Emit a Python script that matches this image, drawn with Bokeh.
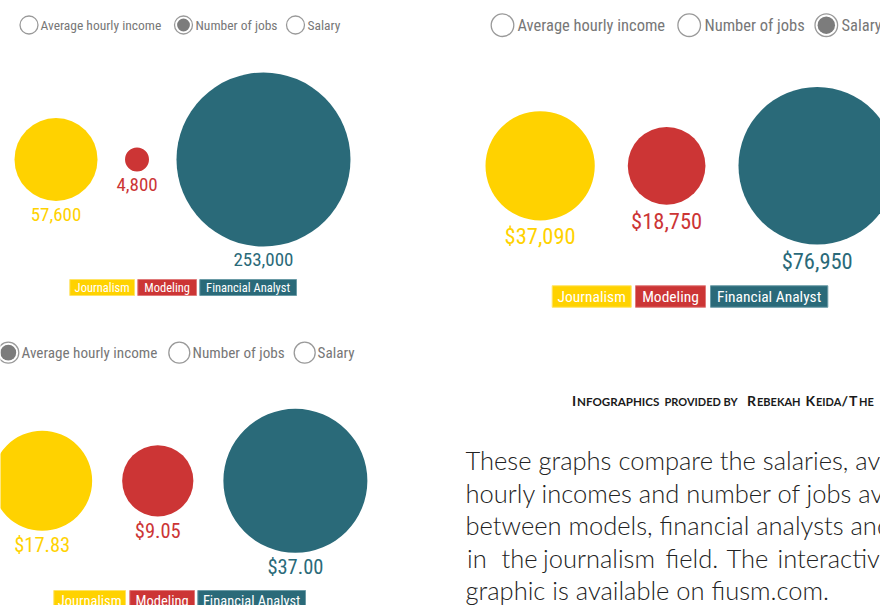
import math
from bokeh.plotting import figure
from bokeh.models import Range1d, ColumnDataSource
from bokeh.core.properties import value
from bokeh.embed import file_html
from bokeh.resources import INLINE

# ---------------- data ----------------
categories = ["Journalism", "Modeling", "Financial Analyst"]
colors = ["#FFD200", "#CC3535", "#2A6A79"]
box_lines = ["#FFE466", "#E07A7A", "#6A9BA6"]
jobs = [57600, 4800, 253000]
salary = [37090, 18750, 76950]
hourly = [17.83, 9.05, 37.00]
radio_labels = ["Average hourly income", "Number of jobs", "Salary"]

credit_parts = [("I", "big"), ("NFOGRAPHICS", "small"), ("PROVIDED BY", "small"),
                ("R", "big"), ("EBEKAH", "small"), ("K", "big"), ("EIDA", "small"),
                ("/", "big"), ("T", "big"), ("HE", "small")]
paragraph = ["These graphs compare the salaries, average",
             "hourly incomes and number of jobs available",
             "between models, financial analysts and those",
             "in the journalism field. The interactive",
             "graphic is available on fiusm.com."]

COND = value("'Roboto Condensed', 'Liberation Sans Narrow', 'DejaVu Sans Condensed', sans-serif")
LIGHT = value("'Lato Light', Lato, sans-serif")
BOLDW = value("Lato, sans-serif")

# ---------------- layout (style only) ----------------
panels = [
    dict(vals=jobs, fmt=lambda v: f"{v:,}", sel=1, left=14, cy=159, rmax=87.0, gap=27.5,
         loff=13, lsize="19px", radio_x=[28.5, 183, 295], radio_tx=[40, 195, 307], radio_y=24.5,
         radio_r=9, radio_size="13.5px",
         box=[(69.3, 134), (137.3, 196), (199.3, 296)], box_y=287, box_h=16, box_size="12.5px"),
    dict(vals=salary, fmt=lambda v: f"${v:,.0f}", sel=2, left=485, cy=165.3, rmax=78.7, gap=33,
         loff=16, lsize="22.5px", radio_x=[502, 688.7, 825.8], radio_tx=[517, 704, 841], radio_y=24.7,
         radio_r=11.3, radio_size="16.5px",
         box=[(551.7, 630.7), (635, 705), (710, 827.3)], box_y=296, box_h=21.5, box_size="15.5px"),
    dict(vals=hourly, fmt=lambda v: f"${v:.2f}", sel=0, left=-8.3, cy=480.3, rmax=72.0, gap=30,
         loff=14.5, lsize="20.5px", radio_x=[7.8, 178.8, 304.2], radio_tx=[21, 192, 317], radio_y=352.2,
         radio_r=10.5, radio_size="15.2px",
         box=[(53.3, 125), (129.3, 194), (197.3, 305)], box_y=600.5, box_h=21, box_size="14.5px"),
]

p = figure(width=880, height=605, x_range=Range1d(0, 880), y_range=Range1d(605, 0),
           output_backend="svg", toolbar_location=None, min_border=0)
p.axis.visible = False
p.grid.visible = False
p.outline_line_color = None
p.background_fill_color = "white"
p.border_fill_color = "white"

for pan in panels:
    vals = pan["vals"]
    vmax = max(vals)
    radii = [pan["rmax"] * math.sqrt(v / vmax) for v in vals]
    xs = []
    edge = pan["left"]
    for r in radii:
        xs.append(edge + r)
        edge = edge + 2 * r + pan["gap"]
    ys = [pan["cy"]] * 3
    src = ColumnDataSource(dict(x=xs, y=ys, r=radii, c=colors,
                                ly=[pan["cy"] + r + pan["loff"] for r in radii],
                                lab=[pan["fmt"](v) for v in vals]))
    p.circle(x="x", y="y", radius="r", fill_color="c", line_color=None, source=src)
    p.text(x="x", y="ly", text="lab", text_color="c", text_font=COND, text_font_size=pan["lsize"],
           text_align="center", text_baseline="middle", source=src)

    # radio buttons
    rs = ColumnDataSource(dict(x=pan["radio_x"], y=[pan["radio_y"]] * 3, tx=pan["radio_tx"],
                               t=radio_labels))
    p.circle(x="x", y="y", radius=pan["radio_r"], fill_color="white", line_color="#9a9a9a",
             line_width=1.3, source=rs)
    p.circle(x=[pan["radio_x"][pan["sel"]]], y=[pan["radio_y"]], radius=pan["radio_r"] - 2.6,
             fill_color="#7c7c7c", line_color=None)
    p.text(x="tx", y="y", text="t", text_color="#777777", text_font=COND,
           text_font_size=pan["radio_size"], text_align="left", text_baseline="middle", source=rs)

    # legend boxes
    bx = [(a + b) / 2 for a, b in pan["box"]]
    bw = [b - a for a, b in pan["box"]]
    ls = ColumnDataSource(dict(x=bx, w=bw, y=[pan["box_y"]] * 3, c=colors, lc=box_lines,
                               t=categories))
    p.rect(x="x", y="y", width="w", height=pan["box_h"], fill_color="c", line_color="lc",
           line_width=1, source=ls)
    p.text(x="x", y="y", text="t", text_color="white", text_font=COND,
           text_font_size=pan["box_size"], text_align="center", text_baseline="middle", source=ls)

# credit line (manual small caps), baseline at y=405
credit_x = [571.5, 576.5, 664, 746.5, 756.5, 805, 815.5, 841, 848.5, 858.5]
credit_sizes = [14.0, 11.6, 11.0, 14.0, 11.0, 14.0, 11.0, 14.0, 14.0, 11.0]
for (txt, kind), x, size in zip(credit_parts, credit_x, credit_sizes):
    p.text(x=[x], y=[405 - 0.36 * size], text=[txt], text_color="#1a1a1a", text_font=BOLDW,
           text_font_style="bold", text_font_size=f"{size}px",
           text_align="left", text_baseline="middle")

# paragraph
PSIZE = 25.5
base_y = [468.3, 500.8, 533.3, 565.8, 598.3]
for i, line in enumerate(paragraph):
    yc = base_y[i] - 0.34 * PSIZE
    if i == 3:
        words = line.split(" ")
        wx = [466.5, 501, 542.5, 665, 726, 777]
        p.text(x=wx, y=[yc] * len(words), text=words, text_color="#222222", text_font=LIGHT,
               text_font_size=f"{PSIZE}px", text_align="left", text_baseline="middle")
    else:
        p.text(x=[465], y=[yc], text=[line], text_color="#222222", text_font=LIGHT,
               text_font_size=f"{PSIZE}px", text_align="left", text_baseline="middle")

open("out.html", "w").write(file_html(p, INLINE))
